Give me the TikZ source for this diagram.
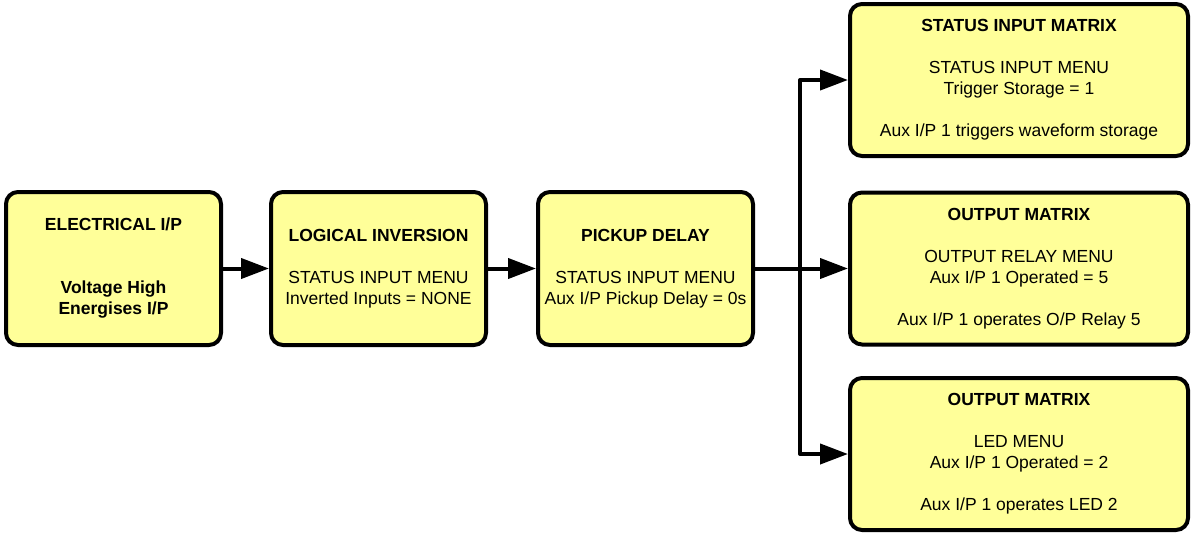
\documentclass[tikz,border=0pt]{standalone}
\usepackage{fontspec}
\setmainfont{Liberation Sans}
\usetikzlibrary{arrows.meta}
\definecolor{boxfill}{HTML}{FFFF99}
\tikzset{
    menubox/.style={draw=black, line width=4pt, fill=boxfill, rounded corners=12pt,
        align=center, inner sep=0pt, font=\fontsize{17.5}{21}\selectfont},
    leftbox/.style={menubox, minimum width=215pt, minimum height=153pt},
    rightbox/.style={menubox, minimum width=338pt, minimum height=152pt},
    flow/.style={line width=4pt, line join=round, -{Triangle[length=28pt,width=20pt]}}
}
\begin{document}
\begin{tikzpicture}[x=1pt, y=-1pt]
    \useasboundingbox (0,0) rectangle (1192,533);

    % Draw chain of boxes
    \node[leftbox] (elec) at (113.5,268.5) {\textbf{ELECTRICAL I/P}\\[42pt]\textbf{Voltage High}\\\textbf{Energises I/P}};
    \node[leftbox] (inv) at (378.5,268.5) {\textbf{LOGICAL INVERSION}\\[21pt]STATUS INPUT MENU\\Inverted Inputs = NONE};
    \node[leftbox] (delay) at (645.5,268.5) {\textbf{PICKUP DELAY}\\[21pt]STATUS INPUT MENU\\Aux I/P Pickup Delay = 0s};

    % Draw matrix boxes
    \node[rightbox] (stmat) at (1019,80) {\textbf{STATUS INPUT MATRIX}\\[21pt]STATUS INPUT MENU\\Trigger Storage = 1\\[21pt]Aux I/P 1 triggers waveform storage};
    \node[rightbox] (relay) at (1019,268.5) {\textbf{OUTPUT MATRIX}\\[21pt]OUTPUT RELAY MENU\\Aux I/P 1 Operated = 5\\[21pt]Aux I/P 1 operates O/P Relay 5};
    \node[rightbox] (led) at (1019,454) {\textbf{OUTPUT MATRIX}\\[21pt]LED MENU\\Aux I/P 1 Operated = 2\\[21pt]Aux I/P 1 operates LED 2};

    % Draw arrows
    \draw[flow] (elec) -- (inv);
    \draw[flow] (inv) -- (delay);
    \draw[flow] (delay) -- (relay);
    \coordinate (fork) at (800,268.5);
    \draw[flow] (fork) |- (stmat.west);
    \draw[flow] (fork) |- (led.west);
\end{tikzpicture}
\end{document}
